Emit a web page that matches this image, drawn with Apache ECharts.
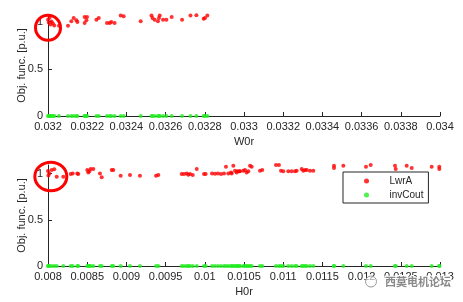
<!DOCTYPE html>
<html>
<head>
<meta charset="utf-8">
<script src="https://cdn.jsdelivr.net/npm/echarts@6/dist/echarts.min.js"></script>
<style>html,body{margin:0;padding:0;background:#fff}#c{width:463px;height:302px}</style>
</head>
<body>
<div id="c"></div>
<script>
// ---- data ----
const w0r = [0.032000,0.032004,0.032008,0.032012,0.032018,0.032025,0.032032,0.032056,0.032102,0.032119,0.032131,0.032145,0.032150,0.032187,0.032199,0.032187,0.032196,0.032247,0.032259,0.032301,0.032315,0.032323,0.032340,0.032371,0.032386,0.032473,0.032528,0.032533,0.032544,0.032561,0.032566,0.032570,0.032587,0.032604,0.032631,0.032684,0.032727,0.032757,0.032794,0.032801,0.032813];
const lwrA_top = [1.02,0.99,1.04,0.97,1.00,0.98,0.96,0.957,0.957,1.003,1.039,1.014,0.997,1.05,1.05,0.986,1.014,1.021,1.039,0.986,0.986,0.997,0.986,1.064,1.056,1.003,1.064,1.039,1.021,1.003,1.039,1.064,1.021,1.021,1.05,1.021,1.064,1.067,1.029,1.039,1.064];
const invCout_top = [0,0,0,0,0,0,0,0,0,0,0,0,0,0,0,0,0,0,0,0,0,0,0,0,0,0,0,0,0,0,0,0,0,0,0,0,0,0,0,0,0];

const h0r = [0.008000,0.008005,0.008017,0.008047,0.008080,0.008111,0.008195,0.008290,0.008315,0.008374,0.008386,0.008501,0.008514,0.008527,0.008545,0.008578,0.008663,0.008685,0.008813,0.008833,0.008927,0.009046,0.009173,0.009378,0.009407,0.009705,0.009735,0.009769,0.009790,0.009811,0.009846,0.009897,0.009990,0.010011,0.010092,0.010130,0.010168,0.010207,0.010245,0.010300,0.010270,0.010364,0.010334,0.010385,0.010415,0.010440,0.010343,0.010407,0.010449,0.010491,0.010513,0.010534,0.010555,0.010577,0.010598,0.010704,0.010733,0.010908,0.010946,0.010972,0.011001,0.011065,0.011108,0.011151,0.011172,0.011236,0.011256,0.011278,0.011300,0.011342,0.011384,0.011648,0.011648,0.011767,0.012056,0.012116,0.012426,0.012435,0.012575,0.012639,0.012894,0.012991,0.012991];
const lwrA_bot = [1.03,0.98,1.003,1.04,1.047,0.968,0.968,0.997,1.003,1.003,0.997,1.04,1.014,1.025,1.051,1.051,1.003,0.96,1.04,1.04,0.978,0.986,0.978,0.978,0.986,0.997,0.997,1.003,0.989,0.997,0.986,1.051,0.997,0.997,1.003,1.0,1.003,0.997,1.003,1.003,1.075,1.086,1.014,1.032,1.025,1.025,1.003,1.014,1.025,1.032,1.04,1.014,1.025,1.086,1.075,1.032,1.04,1.094,1.094,1.032,1.025,1.025,1.025,1.025,1.032,1.051,1.032,1.04,1.04,1.032,1.032,1.086,1.061,1.086,1.075,1.094,1.086,1.051,1.086,1.061,1.075,1.075,1.051];
const invCout_bot = [0,0,0,0,0,0,0,0,0,0,0,0,0,0,0,0,0,0,0,0,0,0,0,0,0,0,0,0,0,0,0,0,0,0,0,0,0,0,0,0,0,0,0,0,0,0,0,0,0,0,0,0,0,0,0,0,0,0,0,0,0,0,0,0,0,0,0,0,0,0,0,0,0,0,0,0,0,0,0,0,0,0,0];

const xTicksTop = [0.032,0.0322,0.0324,0.0326,0.0328,0.033,0.0332,0.0334,0.0336,0.0338,0.034];
const xTicksBot = [0.008,0.0085,0.009,0.0095,0.01,0.0105,0.011,0.0115,0.012,0.0125,0.013];
const yTicks = [0,0.5,1];
const seriesNames = ['LwrA','invCout'];

// ---- chart ----
const TXT = '#262626';
const FONT = '"Liberation Sans", Arial, sans-serif';
function zip(a,b){return a.map((v,i)=>[v,b[i]]);}
function xAxis(idx, min, max, ticks, name){
  return {
    gridIndex: idx, type:'value', min:min, max:max,
    name:name, nameLocation:'middle', nameGap:20, nameMoveOverlap:false,
    nameTextStyle:{color:TXT,fontSize:11,fontFamily:FONT},
    axisLine:{show:true,lineStyle:{color:TXT,width:1}},
    axisTick:{show:true,inside:true,length:4,customValues:ticks,lineStyle:{color:TXT}},
    axisLabel:{show:true,customValues:ticks,margin:5,color:TXT,fontSize:11,fontFamily:FONT,formatter:v=>String(v)},
    splitLine:{show:false}
  };
}
function yAxis(idx, max){
  return {
    gridIndex: idx, type:'value', min:0, max:max,
    name:'Obj. func. [p.u.]', nameLocation:'middle', nameGap:21, nameMoveOverlap:false,
    nameTextStyle:{color:TXT,fontSize:11,fontFamily:FONT},
    axisLine:{show:true,lineStyle:{color:TXT,width:1}},
    axisTick:{show:true,inside:true,length:4,customValues:yTicks,lineStyle:{color:TXT}},
    axisLabel:{show:true,customValues:yTicks,margin:5,color:TXT,fontSize:11,fontFamily:FONT,formatter:v=>String(v)},
    splitLine:{show:false}
  };
}
const chart = echarts.init(document.getElementById('c'), null, {renderer:'canvas'});
const RED = '#ff0000', GREEN = '#22ee22';
chart.setOption({
  animation:false,
  backgroundColor:'#fff',
  textStyle:{fontFamily:FONT},
  grid:[
    {left:48, top:15, width:392, height:101},
    {left:48, top:165, width:392, height:101}
  ],
  xAxis:[ xAxis(0,0.032,0.034,xTicksTop,'W0r'), xAxis(1,0.008,0.013,xTicksBot,'H0r') ],
  yAxis:[ yAxis(0,1.07), yAxis(1,1.094) ],
  legend:{
    data:seriesNames, orient:'vertical', left:343, top:172,
    padding:[3,5,2,21], itemGap:2, itemWidth:36, itemHeight:5,
    backgroundColor:'#fff', borderColor:'#262626', borderWidth:1, borderRadius:0,
    textStyle:{color:TXT,fontSize:10,fontFamily:FONT,lineHeight:12},
    icon:'circle'
  },
  series:[
    {name:seriesNames[0], type:'scatter', xAxisIndex:0, yAxisIndex:0, data:zip(w0r,lwrA_top), symbolSize:4, itemStyle:{color:RED}, silent:true},
    {name:seriesNames[1], type:'scatter', xAxisIndex:0, yAxisIndex:0, data:zip(w0r,invCout_top), symbolSize:4, itemStyle:{color:GREEN}, silent:true},
    {name:seriesNames[0], type:'scatter', xAxisIndex:1, yAxisIndex:1, data:zip(h0r,lwrA_bot), symbolSize:4, itemStyle:{color:RED}, silent:true},
    {name:seriesNames[1], type:'scatter', xAxisIndex:1, yAxisIndex:1, data:zip(h0r,invCout_bot), symbolSize:4, itemStyle:{color:GREEN}, silent:true}
  ]
});
// annotation circles + watermark
const c1 = chart.convertToPixel({gridIndex:0},[0.032,0.935]);
const c2 = chart.convertToPixel({gridIndex:1},[0.008036,0.97]);
chart.setOption({graphic:[
  {type:'circle', shape:{cx:c1[0],cy:c1[1],r:12.5}, style:{fill:null,stroke:'#ff0000',lineWidth:3}, z:100},
  {type:'ellipse', shape:{cx:c2[0],cy:c2[1],rx:16,ry:14.3}, style:{fill:null,stroke:'#ff0000',lineWidth:3}, z:100},
  {type:'circle', shape:{cx:371,cy:281.5,r:5.5}, style:{fill:'rgba(255,255,255,0.6)',stroke:'#999',lineWidth:1}, z:100},
  {type:'text', left:384, top:275, style:{text:'西莫电机论坛', fill:'#8a8a8a', font:'bold 11px "Noto Sans CJK SC"', stroke:'#fff', lineWidth:2}, z:100}
]});
</script>
</body>
</html>
